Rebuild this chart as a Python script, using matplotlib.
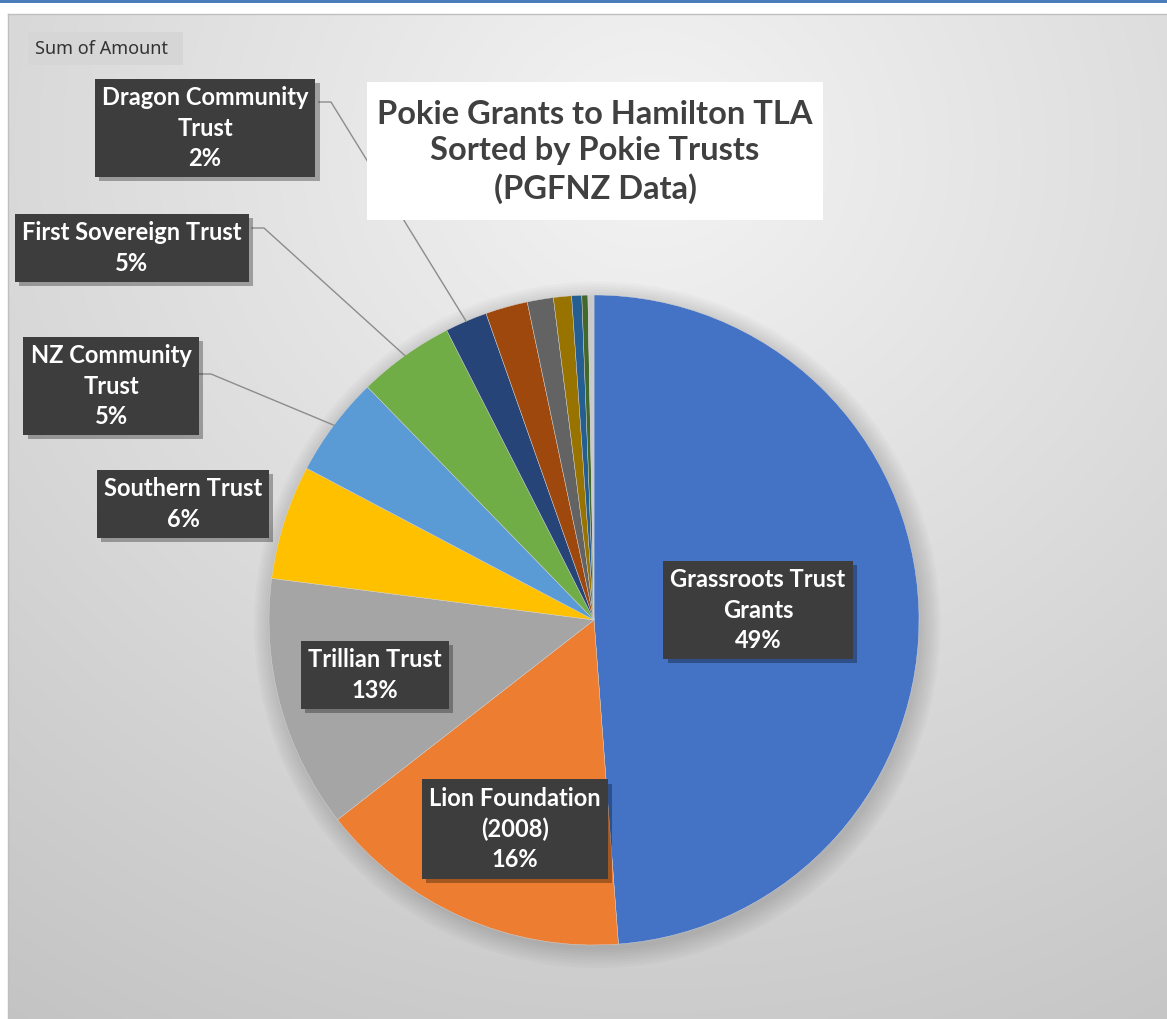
import matplotlib.pyplot as plt
import matplotlib.patheffects as pe
import numpy as np
from matplotlib.patches import Circle, Rectangle

# Data (share of total amount, clockwise from 12 o'clock)
trusts = ['Grassroots Trust Grants', 'Lion Foundation (2008)', 'Trillian Trust',
          'Southern Trust', 'NZ Community Trust', 'First Sovereign Trust',
          'Dragon Community Trust', 'Other trust 1', 'Other trust 2',
          'Other trust 3', 'Other trust 4', 'Other trust 5', 'Other trust 6']
amount_share = [48.9, 15.7, 12.6, 5.7, 5.0, 4.8, 2.1, 2.1, 1.3, 0.9, 0.5, 0.3, 0.3]
label_names = ['Grassroots Trust\nGrants', 'Lion Foundation\n(2008)', 'Trillian Trust',
               'Southern Trust', 'NZ Community\nTrust', 'First Sovereign Trust',
               'Dragon Community\nTrust']
title = 'Pokie Grants to Hamilton TLA\nSorted by Pokie Trusts\n(PGFNZ Data)'

colors = ['#4472C4', '#ED7D31', '#A5A5A5', '#FFC000', '#5B9BD5', '#70AD47',
          '#264478', '#9E480E', '#636363', '#997300', '#255E91', '#43682B', '#C9C9C9']

# layout in pixels
W, H = 1167, 1019
cx, cy, R = 594, 620, 325
label_pos = [(758, 610), (515, 829), (375, 675), (183, 504),
             (111, 386), (132, 248), (205, 128)]
leader_start = {4: (199, 374), 5: (252, 228), 6: (319, 102)}

fig = plt.figure(figsize=(W / 100, H / 100), dpi=100)

# background with soft radial gradient
bg = fig.add_axes([0, 0, 1, 1])
yy, xx = np.mgrid[14:H, 8:W]
d = np.hypot((xx - 650) / 1.1, yy - 150)
val = np.clip(0.955 - 0.18 * d / 1000, 0, 1)
bg.imshow(np.dstack([val] * 3), extent=(8, W, H, 14), aspect='auto',
          interpolation='bilinear')
bg.plot([8, 8], [14, H], color='#bfbfbf', lw=1)
bg.plot([8, W], [14, 14], color='#bfbfbf', lw=1)
bg.add_patch(Rectangle((0, 0), W, 3, fc='#4a7ebb', ec='none'))
bg.set_xlim(0, W)
bg.set_ylim(H, 0)
bg.axis('off')

# pie
ax = fig.add_axes([(cx - R) / W, (H - cy - R) / H, 2 * R / W, 2 * R / H])
for i in range(8):
    ax.add_patch(Circle((0.01, -0.015), 1.0 + 0.008 * i, color='black',
                        alpha=0.018, zorder=0, clip_on=False, lw=0))
wedges, _ = ax.pie(amount_share, colors=colors, startangle=90, counterclock=False,
                   wedgeprops=dict(linewidth=0.3, edgecolor='#d8d8d8'))
ax.set_xlim(-1, 1)
ax.set_ylim(-1, 1)

# overlay for labels, leaders and title
ov = fig.add_axes([0, 0, 1, 1])
ov.set_xlim(0, W)
ov.set_ylim(H, 0)
ov.axis('off')

for idx, (sx, sy) in leader_start.items():
    w = wedges[idx]
    th = np.deg2rad((w.theta1 + w.theta2) / 2)
    ex, ey = cx + R * np.cos(th), cy - R * np.sin(th)
    ov.plot([sx, sx + 12, ex], [sy, sy, ey], color='#8c8c8c', lw=1, zorder=1)

total = sum(amount_share)
for i, name in enumerate(label_names):
    pct = f'{round(amount_share[i] / total * 100)}%'
    x, y = label_pos[i]
    t = ov.text(x, y, name + '\n' + pct, ha='center', va='center', color='white',
                fontsize=17, fontweight='bold', family='Lato', linespacing=1.4,
                zorder=3,
                bbox=dict(boxstyle='square,pad=0.3', fc='#3d3d3d', ec='none'))
    t.get_bbox_patch().set_path_effects(
        [pe.withSimplePatchShadow(offset=(3, -3), shadow_rgbFace='black', alpha=0.3)])

ov.add_patch(Rectangle((367, 82), 456, 138, fc='white', ec='none', zorder=2))
ov.text(595, 152, title, ha='center', va='center', fontsize=23.5, fontweight='bold',
        family='Lato', color='#404040', linespacing=1.3, zorder=3)

ov.add_patch(Rectangle((28, 32), 155, 33, fc='#d6d6d6', ec='none', zorder=2))
ov.text(35, 48.5, 'Sum of Amount', ha='left', va='center', fontsize=13,
        family='Noto Sans', color='#333333', zorder=3)

fig.savefig('out.png', dpi=100)
